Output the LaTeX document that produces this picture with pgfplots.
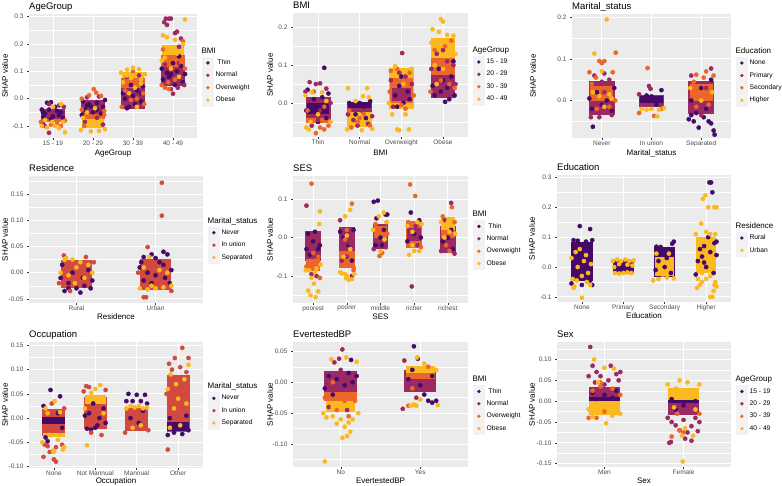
\documentclass[border=0pt]{standalone}
\usepackage{pgfplots}
\pgfplotsset{compat=1.18}
\usepackage{fontspec}
\setmainfont{Liberation Sans}
\definecolor{ggbg}{HTML}{EBEBEB}
\definecolor{ggkey}{HTML}{F2F2F2}
\definecolor{cA}{HTML}{450A69}
\definecolor{cB}{HTML}{9B2964}
\definecolor{cC}{HTML}{EB6628}
\definecolor{cD}{HTML}{FBB91F}
\definecolor{cR}{HTML}{D24A3F}
\newcommand{\rect}[5]{\addplot[draw=none,fill=#1,forget plot] coordinates {(#2,#3) (#4,#3) (#4,#5) (#2,#5)};}
\newcommand{\ltitle}[1]{\addlegendimage{empty legend}\addlegendentry{\hspace*{-14pt}\fontsize{8}{9}\selectfont\rule[-3pt]{0pt}{8pt}#1}}
\pgfplotsset{
 pt/.style={only marks, mark=*, mark size=2.1pt, color=#1, forget plot},
 lg/.style={only marks, mark=*, color=#1, legend image code/.code={\fill[ggkey] (0pt,-6pt) rectangle (11pt,6pt); \draw[mark size=1.5pt] plot coordinates {(5.5pt,0pt)};}},
 gg/.style={scale only axis, anchor=south west,
  axis background/.style={fill=ggbg}, axis line style={draw=none},
  grid=both, major grid style={white, line width=0.9pt}, minor grid style={white, line width=0.45pt},
  tick pos=left, tick align=outside, major tick length=2pt, minor tick length=0pt,
  tick style={draw=black!80, line width=0.45pt},
  ticklabel style={font=\fontsize{6.5}{7}\selectfont, text=black!70},
  xticklabel style={inner sep=1pt},
  label style={font=\fontsize{8}{9}\selectfont},
  every axis title/.style={at={(axis description cs:0,1)}, anchor=base west, yshift=4pt, inner sep=0pt, font=\fontsize{9.5}{11}\selectfont},
  ylabel={SHAP value},
  legend style={at={(1,0.5)}, anchor=west, xshift=5pt, draw=none, fill=none, font=\fontsize{6.7}{7.5}\selectfont, row sep=0pt, inner sep=0pt},
  legend cell align=left},
}
\begin{document}
\begin{tikzpicture}
% ---------------- Panel 1: AgeGroup
\begin{axis}[gg, at={(29pt,348pt)}, width=168pt, height=124pt,
 xmin=0.4, xmax=4.6, ymin=-0.144, ymax=0.31,
 xtick={1,2,3,4}, xticklabels={15 - 19,20 - 29,30 - 39,40 - 49},
 ytick={-0.1,0,0.1,0.2,0.3}, yticklabels={-0.1,0.0,0.1,0.2,0.3}, minor ytick={-0.05,0.05,0.15,0.25},
 title={AgeGroup}, xlabel={AgeGroup},
 ylabel style={at={(axis description cs:-0.143,0.5)}, anchor=center},
 xlabel style={at={(axis description cs:0.5,-0.127)}, anchor=center}]
\ltitle{BMI}
\addlegendimage{lg=cA}\addlegendentry{\ Thin}
\addlegendimage{lg=cB}\addlegendentry{Normal}
\addlegendimage{lg=cC}\addlegendentry{Overweight}
\addlegendimage{lg=cD}\addlegendentry{Obese}
\rect{cB}{0.7}{-0.086}{1.3}{-0.037}
\rect{cC}{0.7}{-0.086}{1.3}{-0.073}
\rect{cB}{1.7}{-0.056}{2.3}{-0.004}
\rect{cC}{1.7}{-0.076}{2.3}{-0.056}
\rect{cD}{1.72}{-0.106}{2.28}{-0.076}
\rect{cB}{2.7}{-0.038}{3.3}{0.04}
\rect{cC}{2.7}{0.04}{3.3}{0.075}
\rect{cD}{2.72}{0.075}{3.28}{0.098}
\rect{cB}{3.7}{0.047}{4.3}{0.115}
\rect{cC}{3.7}{0.115}{4.3}{0.16}
\rect{cD}{3.72}{0.16}{4.28}{0.198}
\addplot[pt=cA] coordinates {(0.85,-0.015)(0.95,-0.013)(0.72,-0.04)(1.1,-0.045)(0.8,-0.055)(1.2,-0.05)(1.0,-0.065)(0.9,-0.04)(1.25,-0.07)(0.76,-0.068)(1.05,-0.03)(0.75,-0.05)(1.15,-0.06)(0.95,-0.075)
 (1.75,-0.01)(1.9,-0.02)(2.1,-0.015)(2.25,-0.03)(1.8,-0.04)(2.0,-0.05)(2.2,-0.055)(1.95,-0.03)(2.3,-0.005)(1.72,-0.06)(2.1,-0.04)(1.85,-0.025)
 (2.8,0.0)(3.0,0.01)(3.2,-0.01)(2.9,-0.03)(3.1,0.03)(2.75,0.02)(3.25,0.045)(3.05,-0.02)(2.95,0.05)(3.2,0.02)(2.85,-0.035)
 (3.75,0.07)(3.9,0.08)(4.1,0.1)(4.25,0.06)(4.0,0.13)(3.85,0.095)(4.15,0.155)(4.3,0.09)(3.72,0.11)(4.05,0.05)(3.95,0.09)(4.2,0.12)};
\addplot[pt=cB] coordinates {(0.9,-0.02)(1.15,-0.025)(0.8,-0.1)(0.9,-0.125)(0.75,-0.09)(1.27,-0.03)
 (1.85,0.005)(2.15,0.008)(1.8,-0.085)(2.1,-0.07)(2.25,-0.095)
 (2.85,0.08)(3.15,0.085)
 (3.82,0.293)(3.9,0.293)(3.95,0.293)(3.78,0.28)(3.85,0.27)(4.05,0.24)(4.1,0.245)(4.2,0.22)(3.95,0.035)(4.12,0.04)(4.0,0.018)(4.28,0.05)(4.15,0.19)(3.8,0.125)(4.15,0.13)};
\addplot[pt=cC] coordinates {(0.95,-0.095)(1.1,-0.09)(0.7,-0.085)(1.2,-0.1)(1.3,-0.08)
 (2.02,0.035)(2.08,0.022)(1.9,0.012)(2.2,0.01)(1.72,0.0)(1.95,-0.065)(2.28,-0.06)(1.78,-0.1)(1.72,-0.04)(2.28,-0.045)
 (2.8,0.03)(3.1,0.0)(3.25,0.02)(2.72,-0.03)(3.0,0.1)(2.95,-0.005)(3.28,-0.02)
 (3.8,0.04)(3.9,0.035)(4.2,0.135)(3.75,0.18)(4.25,0.21)(3.88,0.06)(4.3,0.11)(4.05,0.07)(3.72,0.05)};
\addplot[pt=cD] coordinates {(1.0,-0.03)(1.2,-0.02)(1.05,-0.1)(0.85,-0.105)(1.15,-0.108)(1.3,-0.123)(0.72,-0.1)(0.98,-0.085)(0.8,-0.078)(1.25,-0.085)
 (1.85,-0.05)(2.05,-0.035)(1.7,-0.115)(1.95,-0.12)(2.15,-0.118)(2.3,-0.112)(2.05,-0.1)(1.9,-0.092)(1.75,-0.07)(2.2,-0.08)(2.0,-0.085)
 (3.0,0.113)(3.15,0.108)(2.85,0.106)(2.9,0.02)(3.2,0.055)(2.75,0.06)(3.3,0.09)(3.05,0.04)(2.7,0.095)(3.1,-0.03)(2.85,0.085)(3.2,0.07)(2.95,0.075)
 (4.3,0.29)(3.75,0.232)(3.85,0.225)(4.05,0.215)(4.25,0.2)(3.95,0.11)(4.15,0.08)(3.72,0.14)(4.0,0.175)(3.9,0.18)(4.1,0.165)(3.8,0.15)};
\end{axis}
% ---------------- Panel 2: BMI
\begin{axis}[gg, at={(293pt,349pt)}, width=175pt, height=124pt,
 xmin=0.4, xmax=4.6, ymin=-0.09, ymax=0.238,
 xtick={1,2,3,4}, xticklabels={Thin,Normal,Overweight,Obese},
 ytick={0,0.1,0.2}, yticklabels={0.0,0.1,0.2}, minor ytick={-0.05,0.05,0.15},
 title={BMI}, xlabel={BMI},
 ylabel style={at={(axis description cs:-0.131,0.5)}, anchor=center},
 xlabel style={at={(axis description cs:0.5,-0.13)}, anchor=center}]
\ltitle{AgeGroup}
\addlegendimage{lg=cA}\addlegendentry{15 - 19}
\addlegendimage{lg=cB}\addlegendentry{20 - 29}
\addlegendimage{lg=cC}\addlegendentry{30 - 39}
\addlegendimage{lg=cD}\addlegendentry{40 - 49}
\rect{cB}{0.7}{-0.053}{1.3}{0.016}
\rect{cA}{0.74}{-0.03}{1.26}{0.0}
\rect{cC}{0.72}{-0.053}{1.28}{-0.04}
\rect{cD}{1.7}{-0.064}{2.3}{0.002}
\rect{cB}{1.7}{-0.025}{2.3}{0.0}
\rect{cA}{1.72}{-0.012}{2.28}{0.002}
\rect{cD}{2.7}{-0.016}{3.3}{0.093}
\rect{cC}{2.72}{0.0}{3.28}{0.065}
\rect{cB}{2.77}{0.005}{3.23}{0.04}
\rect{cB}{3.7}{0.012}{4.3}{0.075}
\rect{cC}{3.7}{0.075}{4.3}{0.12}
\rect{cD}{3.72}{0.12}{4.28}{0.173}
\addplot[pt=cA] coordinates {(1.15,0.093)(0.9,0.01)(1.1,0.015)(1.25,0.025)(0.8,-0.005)(1.2,-0.04)(0.75,0.035)(1.0,-0.05)(0.72,-0.02)
 (1.8,-0.005)(2.0,0.0)(2.25,0.005)(1.9,-0.03)(2.15,-0.04)(2.1,-0.01)(1.75,0.0)
 (2.85,0.02)(3.05,0.0)(3.15,0.03)(2.95,0.045)(3.2,0.01)(2.9,-0.01)(3.0,0.07)
 (3.8,0.02)(3.95,0.03)(4.15,0.01)(4.28,0.02)(4.0,0.06)(3.75,0.045)(4.1,0.04)(3.9,0.09)(4.2,0.07)(4.05,0.003)(4.25,0.11)};
\addplot[pt=cB] coordinates {(0.8,0.055)(0.95,0.05)(1.05,0.052)(1.2,0.038)(0.7,0.03)(1.3,0.0)(0.85,-0.06)(1.0,-0.045)(1.05,-0.02)
 (1.85,-0.045)(2.05,-0.02)(2.2,-0.055)(1.72,-0.03)(1.95,-0.06)(2.3,-0.035)
 (3.02,0.132)(2.75,0.06)(3.25,0.05)(2.8,-0.01)(3.1,0.07)(2.95,0.08)
 (4.25,0.1)(3.72,0.09)(3.85,0.13)(4.1,0.11)(4.3,0.05)(4.0,0.14)};
\addplot[pt=cC] coordinates {(0.9,0.03)(1.05,-0.065)(0.95,-0.08)(1.25,-0.06)(0.75,-0.02)(1.15,-0.07)(1.15,-0.01)
 (1.75,-0.02)(2.1,-0.03)(1.95,-0.05)(2.25,-0.06)(1.8,-0.065)(2.0,-0.04)
 (2.75,0.085)(3.2,0.08)(2.9,0.09)(3.3,0.02)(2.72,0.03)(3.1,-0.015)(3.0,-0.005)
 (3.8,0.14)(4.05,0.15)(4.2,0.165)(3.95,0.06)(3.7,0.03)(4.28,0.04)(4.15,0.05)};
\addplot[pt=cD] coordinates {(0.7,0.02)(0.85,0.028)(1.1,0.028)(0.72,-0.065)(0.82,-0.05)(1.3,-0.05)(1.0,-0.03)(1.2,0.005)(0.78,-0.07)
 (1.72,0.039)(2.18,0.039)(2.08,0.018)(2.22,0.015)(1.9,0.005)(1.7,-0.07)(2.3,-0.068)(2.05,-0.072)
 (2.78,-0.03)(2.9,-0.07)(2.95,-0.072)(3.18,-0.07)(3.1,-0.03)(2.85,0.097)(3.25,0.09)(2.7,0.0)(3.05,0.05)
 (3.95,0.222)(4.0,0.215)(3.75,0.195)(3.9,0.188)(4.1,0.18)(4.25,0.178)(3.72,0.16)(4.3,0.13)(4.0,0.09)(3.85,0.05)(3.8,0.1)};
\end{axis}
% ---------------- Panel 3: Marital_status
\begin{axis}[gg, at={(572pt,348pt)}, width=159pt, height=124pt,
 xmin=0.4, xmax=3.6, ymin=-0.09, ymax=0.208,
 xtick={1,2,3}, xticklabels={Never,In union,Separated},
 ytick={0,0.1,0.2}, yticklabels={0.0,0.1,0.2}, minor ytick={-0.05,0.05,0.15},
 title={Marital\_status}, xlabel={Marital\_status},
 ylabel style={at={(axis description cs:-0.245,0.5)}, anchor=center},
 xlabel style={at={(axis description cs:0.5,-0.125)}, anchor=center}]
\ltitle{Education}
\addlegendimage{lg=cA}\addlegendentry{None}
\addlegendimage{lg=cB}\addlegendentry{Primary}
\addlegendimage{lg=cC}\addlegendentry{Secondary}
\addlegendimage{lg=cD}\addlegendentry{Higher}
\rect{cB}{0.74}{-0.034}{1.26}{0.048}
\rect{cC}{0.77}{0.0}{1.23}{0.035}
\rect{cB}{1.74}{-0.015}{2.26}{0.014}
\rect{cA}{1.77}{-0.005}{2.23}{0.011}
\rect{cB}{2.74}{-0.033}{3.26}{0.048}
\rect{cC}{2.77}{0.0}{3.23}{0.04}
\addplot[pt=cA] coordinates {(0.8,-0.02)(1.0,-0.01)(1.2,-0.025)(0.9,0.02)(1.1,0.0)(0.75,0.005)(1.25,0.03)(0.82,-0.063)
 (2.2,0.025)(1.8,0.0)(2.0,0.01)(2.1,-0.01)(1.9,0.012)
 (2.75,-0.045)(2.85,-0.05)(2.95,-0.065)(3.05,-0.04)(3.15,-0.05)(3.2,-0.055)(3.25,-0.072)(3.27,-0.082)(2.9,-0.03)(3.1,-0.02)(2.8,0.0)(3.0,0.03)(3.2,0.05)(2.8,-0.035)};
\addplot[pt=cB] coordinates {(0.85,0.06)(1.05,0.065)(1.15,0.05)(0.78,-0.04)(0.95,-0.04)(1.2,-0.035)(1.0,0.045)(1.05,0.02)
 (1.95,0.035)(1.98,0.028)(1.75,0.015)
 (3.2,0.077)(2.8,0.06)(3.0,-0.035)(3.1,0.03)};
\addplot[pt=cC] coordinates {(1.28,0.115)(0.95,0.095)(1.05,0.095)(1.0,0.09)(0.75,0.068)(1.22,0.068)(0.88,0.055)(1.1,0.03)(0.9,-0.02)(1.27,0.0)(0.8,0.04)(1.15,-0.015)
 (1.92,0.078)(2.05,-0.037)(1.75,-0.03)(2.2,-0.02)
 (3.1,0.07)(2.9,0.062)(3.25,0.06)(3.05,0.055)(2.85,0.045)(3.15,-0.01)(2.9,-0.015)};
\addplot[pt=cD] coordinates {(1.1,0.195)(0.85,0.113)(1.0,0.07)(0.95,0.01)(1.15,0.015)(0.82,0.02)(1.2,0.005)(1.05,-0.015)
 (2.12,-0.038)(1.8,-0.02)(1.9,-0.022)(2.0,-0.02)(2.15,-0.022)(2.25,-0.018)
 (2.78,0.03)(3.22,0.02)(3.0,0.0)};
\end{axis}
% ---------------- Panel 4: Residence
\begin{axis}[gg, at={(29pt,183pt)}, width=174pt, height=127pt,
 xmin=0.4, xmax=2.6, ymin=-0.058, ymax=0.185,
 xtick={1,2}, xticklabels={Rural,Urban},
 ytick={-0.05,0,0.05,0.1,0.15}, yticklabels={-0.05,0.00,0.05,0.10,0.15}, minor ytick={-0.025,0.025,0.075,0.125,0.175},
 title={Residence}, xlabel={Residence},
 ylabel style={at={(axis description cs:-0.138,0.5)}, anchor=center},
 xlabel style={at={(axis description cs:0.5,-0.108)}, anchor=center}]
\ltitle{Marital\_status}
\addlegendimage{lg=cA}\addlegendentry{Never}
\addlegendimage{lg=cR}\addlegendentry{In union}
\addlegendimage{lg=cD}\addlegendentry{Separated}
\rect{cR}{0.8}{-0.03}{1.2}{0.025}
\rect{cR}{1.8}{-0.034}{2.2}{0.026}
\addplot[pt=cA] coordinates {(0.8,-0.01)(0.9,-0.02)(1.0,-0.03)(1.1,-0.025)(1.2,-0.015)(0.85,-0.035)(0.95,0.0)(1.15,0.005)(1.05,-0.038)(0.82,0.015)(1.18,-0.03)(0.9,-0.03)(1.08,-0.01)
 (1.85,0.03)(1.95,0.035)(2.1,0.04)(2.15,0.035)(1.8,0.01)(1.9,0.0)(2.0,-0.005)(2.1,0.015)(2.2,0.005)(1.85,-0.015)(1.95,-0.02)(2.05,0.02)(2.18,-0.02)(1.82,0.02)(2.0,0.028)(2.12,-0.01)};
\addplot[pt=cR] coordinates {(0.84,0.033)(1.12,0.03)(0.92,-0.035)(1.22,0.02)(0.78,-0.02)
 (2.08,0.172)(2.08,0.109)(1.9,0.049)(1.85,-0.047)(1.88,-0.047)(2.2,-0.035)(1.78,0.0)};
\addplot[pt=cD] coordinates {(0.85,0.025)(0.95,0.025)(1.05,0.02)(1.15,0.015)(0.8,0.0)(1.0,0.01)(0.9,-0.005)(1.1,-0.01)(1.2,0.0)(0.87,0.028)(0.98,-0.02)
 (1.8,-0.03)(1.9,-0.032)(2.0,-0.03)(2.1,-0.028)(2.2,-0.025)(1.95,-0.025)(2.05,0.005)(1.85,0.01)(2.15,0.0)(1.92,0.03)};
\end{axis}
% ---------------- Panel 5: SES
\begin{axis}[gg, at={(293pt,183pt)}, width=175pt, height=127pt,
 xmin=0.4, xmax=5.6, ymin=-0.17, ymax=0.16,
 xtick={1,2,3,4,5}, xticklabels={poorest,poorer,middle,richer,richest},
 ytick={-0.1,0,0.1}, yticklabels={-0.1,0.0,0.1}, minor ytick={-0.15,-0.05,0.05,0.15},
 title={SES}, xlabel={SES},
 ylabel style={at={(axis description cs:-0.131,0.5)}, anchor=center},
 xlabel style={at={(axis description cs:0.5,-0.108)}, anchor=center}]
\ltitle{BMI}
\addlegendimage{lg=cA}\addlegendentry{\ Thin}
\addlegendimage{lg=cB}\addlegendentry{Normal}
\addlegendimage{lg=cC}\addlegendentry{Overweight}
\addlegendimage{lg=cD}\addlegendentry{Obese}
\rect{cB}{0.77}{-0.061}{1.23}{0.017}
\rect{cC}{0.79}{-0.088}{1.21}{-0.055}
\rect{cB}{1.77}{-0.035}{2.23}{0.028}
\rect{cC}{1.77}{-0.078}{2.23}{-0.035}
\rect{cB}{2.77}{-0.031}{3.23}{0.036}
\rect{cC}{2.8}{0.0}{3.2}{0.03}
\rect{cC}{3.77}{-0.028}{4.23}{0.043}
\rect{cB}{3.8}{-0.01}{4.2}{0.025}
\rect{cB}{4.77}{-0.04}{5.23}{0.03}
\rect{cD}{4.79}{0.02}{5.21}{0.053}
\rect{cC}{4.79}{0.0}{5.21}{0.02}
\addplot[pt=cA] coordinates {(0.85,0.01)(1.0,-0.01)(1.15,-0.03)(0.9,-0.045)(1.2,-0.02)(1.05,0.015)(0.8,-0.03)
 (2.2,0.02)(2.15,-0.06)(1.9,0.0)(2.05,-0.02)(1.8,0.015)
 (2.8,0.093)(2.92,0.096)(2.88,0.05)(3.15,0.06)(3.2,0.06)(3.0,0.0)(2.85,-0.02)(3.1,0.02)(3.05,-0.02)
 (3.9,0.065)(4.15,0.045)(4.0,0.01)(3.8,-0.01)(4.2,0.0)
 (5.15,-0.03)(5.0,0.0)(4.85,-0.01)(5.1,0.02)};
\addplot[pt=cB] coordinates {(0.8,0.083)(1.1,-0.1)(0.95,-0.095)
 (1.8,0.045)(2.0,-0.05)(1.85,-0.06)(2.1,-0.015)(2.15,-0.1)
 (2.8,-0.03)(3.15,-0.025)
 (3.93,-0.127)(4.05,0.03)(3.85,0.02)(4.1,-0.02)
 (5.1,0.09)(4.9,0.045)(5.2,-0.042)(4.8,-0.035)};
\addplot[pt=cC] coordinates {(0.95,0.14)(1.2,-0.105)(0.8,-0.075)(1.05,-0.06)(1.15,-0.05)(1.0,-0.04)
 (2.15,0.088)(2.2,-0.085)(2.2,-0.078)(2.0,0.02)(1.95,-0.005)
 (2.97,-0.048)(3.05,-0.04)(2.85,0.035)(3.2,0.01)
 (3.88,0.138)(4.03,0.108)(3.82,0.04)(4.2,-0.025)
 (5.12,0.079)(4.85,0.055)(5.2,0.04)(4.95,-0.02)(5.05,-0.035)};
\addplot[pt=cD] coordinates {(1.2,0.068)(1.18,0.035)(0.88,-0.085)(1.1,-0.08)(1.22,-0.07)(0.78,-0.085)(1.05,-0.09)(0.95,-0.105)(0.85,-0.138)(0.92,-0.15)(1.07,-0.155)(1.15,-0.14)(1.02,-0.12)
 (2.1,0.072)(1.95,0.055)(1.8,-0.09)(1.85,-0.093)(1.95,-0.095)(1.98,-0.105)(2.0,-0.1)(2.05,-0.11)(2.15,-0.108)(2.22,-0.095)(1.9,-0.05)(2.1,-0.03)(2.0,0.005)
 (3.1,0.065)(2.95,0.055)(3.18,0.04)(2.78,0.02)(3.0,-0.035)(3.12,-0.005)
 (3.85,-0.045)(4.0,-0.035)(4.15,-0.035)(3.95,-0.02)(4.22,0.035)(3.8,0.03)(4.1,0.04)(3.95,0.015)
 (4.8,0.04)(5.0,0.04)(5.22,0.01)(4.9,0.0)(5.05,0.015)};
\end{axis}
% ---------------- Panel 6: Education
\begin{axis}[gg, at={(557pt,184pt)}, width=174pt, height=127pt,
 xmin=0.4, xmax=4.6, ymin=-0.117, ymax=0.308,
 xtick={1,2,3,4}, xticklabels={None,Primary,Secondary,Higher},
 ytick={-0.1,0,0.1,0.2,0.3}, yticklabels={-0.1,0.0,0.1,0.2,0.3}, minor ytick={-0.05,0.05,0.15,0.25},
 title={Education}, xlabel={Education},
 ylabel style={at={(axis description cs:-0.144,0.5)}, anchor=center},
 xlabel style={at={(axis description cs:0.5,-0.108)}, anchor=center}]
\ltitle{Residence}
\addlegendimage{lg=cA}\addlegendentry{Rural}
\addlegendimage{lg=cD}\addlegendentry{Urban}
\rect{cA}{0.74}{-0.048}{1.26}{0.083}
\rect{cA}{1.74}{-0.023}{2.26}{0.023}
\rect{cA}{2.74}{-0.033}{3.26}{0.068}
\rect{cD}{2.77}{-0.03}{3.23}{0.033}
\rect{cD}{3.76}{-0.02}{4.24}{0.1}
\addplot[pt=cA] coordinates {(0.95,0.137)(1.2,0.127)(0.8,0.09)(0.9,0.088)(1.1,0.085)(1.25,0.09)(0.75,-0.055)(1.25,-0.06)(1.0,-0.06)(1.2,-0.045)
 (3.22,0.085)(3.18,0.078)(2.8,0.068)(2.9,0.067)(3.1,0.06)(2.85,0.02)(3.0,0.0)(3.15,-0.02)(2.78,-0.01)(3.05,0.03)
 (4.08,0.283)(4.12,0.283)(4.15,0.25)(3.8,0.02)(3.9,0.035)(4.0,0.0)(4.1,0.05)(4.2,0.08)(4.25,0.085)(3.85,0.06)(4.05,0.1)(3.95,0.015)(4.18,-0.02)(3.75,-0.025)(4.25,0.04)(3.95,0.07)};
\addplot[pt=cD] coordinates {(0.82,-0.065)(0.8,-0.07)(1.2,-0.06)(1.0,-0.103)(0.9,0.0)(1.05,0.02)(1.15,-0.02)(0.85,0.05)(1.1,0.04)(0.78,-0.04)(1.0,-0.03)(0.95,0.06)(1.22,0.01)(0.88,-0.045)(1.12,-0.05)(0.75,0.03)
 (1.75,0.02)(1.85,0.025)(1.95,0.02)(2.05,0.025)(2.15,0.02)(2.25,0.022)(1.8,-0.02)(1.9,-0.022)(2.0,-0.02)(2.1,-0.018)(2.2,-0.02)(1.78,0.0)(2.22,0.005)(1.9,0.01)(2.1,0.008)
 (2.72,-0.045)(2.85,-0.04)(3.05,-0.035)(3.22,-0.038)(2.95,-0.025)(3.1,0.045)(2.8,0.045)
 (3.98,0.24)(3.92,0.228)(4.05,0.2)(4.2,0.2)(4.25,0.2)(3.88,0.145)(4.0,0.118)(4.1,0.11)(4.22,0.11)(3.75,0.11)(3.8,-0.04)(3.85,-0.06)(3.78,-0.07)(3.9,-0.05)(4.0,-0.04)(4.1,-0.03)(4.2,-0.06)(4.25,-0.065)(4.15,-0.1)(4.1,-0.1)(4.18,-0.08)(4.22,-0.05)(3.9,-0.02)};
\end{axis}
% ---------------- Panel 7: Occupation
\begin{axis}[gg, at={(29pt,18pt)}, width=174pt, height=126pt,
 xmin=0.4, xmax=4.6, ymin=-0.103, ymax=0.157,
 xtick={1,2,3,4}, xticklabels={None,Not Mannual,Mannual,Other},
 ytick={-0.1,-0.05,0,0.05,0.1,0.15}, yticklabels={-0.10,-0.05,0.00,0.05,0.10,0.15}, minor ytick={-0.075,-0.025,0.025,0.075,0.125},
 title={Occupation}, xlabel={Occupation},
 ylabel style={at={(axis description cs:-0.138,0.5)}, anchor=center},
 xlabel style={at={(axis description cs:0.5,-0.108)}, anchor=center}]
\ltitle{Marital\_status}
\addlegendimage{lg=cA}\addlegendentry{Never}
\addlegendimage{lg=cR}\addlegendentry{In union}
\addlegendimage{lg=cD}\addlegendentry{Separated}
\rect{cR}{0.72}{-0.038}{1.28}{0.018}
\rect{cA}{0.72}{-0.012}{1.28}{0.003}
\rect{cD}{0.74}{-0.04}{1.26}{-0.03}
\rect{cR}{1.72}{-0.022}{2.28}{0.043}
\rect{cD}{1.74}{0.03}{2.26}{0.048}
\rect{cR}{2.72}{-0.026}{3.28}{0.02}
\rect{cR}{3.72}{-0.028}{4.28}{0.088}
\rect{cA}{3.74}{-0.026}{4.26}{-0.008}
\addplot[pt=cA] coordinates {(0.92,0.058)(1.15,0.045)(0.75,0.025)(0.8,-0.04)(0.85,-0.048)(1.1,0.01)(1.2,-0.02)
 (1.8,-0.022)(1.9,-0.024)(2.0,-0.02)(2.1,0.0)(1.85,0.01)(2.2,0.02)(1.95,0.03)(2.25,-0.01)(1.75,0.005)(2.05,-0.015)
 (2.8,0.05)(3.0,0.048)(3.2,0.048)(2.75,0.035)(2.9,0.035)(3.1,0.035)(3.25,0.03)(2.85,0.0)(3.05,-0.01)(3.15,0.015)
 (3.75,-0.035)(3.9,-0.03)(4.1,-0.033)(4.25,-0.025)(3.8,0.0)(4.2,0.005)};
\addplot[pt=cR] coordinates {(0.78,-0.055)(0.85,-0.058)(1.05,-0.06)(1.2,-0.055)(0.75,-0.08)(1.0,-0.085)(1.05,-0.09)(0.9,-0.07)(0.95,0.03)(1.25,0.02)
 (1.78,0.066)(1.85,0.064)(2.15,-0.035)(1.72,0.055)(2.25,0.058)(1.9,-0.03)
 (2.72,-0.03)(3.28,-0.025)
 (4.1,0.145)(3.92,0.124)(4.25,0.124)(3.78,0.112)(4.05,0.105)(3.85,0.1)(4.2,0.095)(3.75,-0.065)(3.72,0.05)};
\addplot[pt=cD] coordinates {(1.02,0.035)(0.8,0.02)(0.85,0.01)(1.15,0.012)(1.25,-0.06)(1.22,-0.065)(0.98,-0.067)(1.0,-0.07)(0.72,-0.05)(1.1,-0.045)(0.9,-0.035)
 (2.12,0.068)(1.8,-0.056)(2.0,0.06)(1.75,0.02)(2.2,0.01)(1.9,0.052)
 (2.75,0.02)(2.85,0.025)(2.95,0.022)(3.05,0.025)(3.15,0.02)(3.25,0.022)(2.9,-0.02)(3.1,-0.015)
 (4.25,0.11)(3.82,0.09)(4.15,0.08)(3.75,0.06)(4.0,0.04)(3.9,0.02)(4.2,0.03)(3.95,0.07)(4.05,-0.015)(3.8,-0.02)};
\end{axis}
% ---------------- Panel 8: EvertestedBP
\begin{axis}[gg, at={(293pt,19pt)}, width=175pt, height=125pt,
 xmin=0.4, xmax=2.6, ymin=-0.137, ymax=0.065,
 xtick={1,2}, xticklabels={No,Yes},
 ytick={-0.1,-0.05,0,0.05}, yticklabels={-0.10,-0.05,0.00,0.05}, minor ytick={-0.125,-0.075,-0.025,0.025},
 title={EvertestedBP}, xlabel={EvertestedBP},
 ylabel style={at={(axis description cs:-0.131,0.5)}, anchor=center},
 xlabel style={at={(axis description cs:0.5,-0.108)}, anchor=center}]
\ltitle{BMI}
\addlegendimage{lg=cA}\addlegendentry{\ Thin}
\addlegendimage{lg=cB}\addlegendentry{Normal}
\addlegendimage{lg=cC}\addlegendentry{Overweight}
\addlegendimage{lg=cD}\addlegendentry{Obese}
\rect{cB}{0.79}{-0.02}{1.21}{0.018}
\rect{cC}{0.79}{-0.031}{1.21}{-0.015}
\rect{cD}{0.82}{-0.048}{1.18}{-0.03}
\rect{cB}{1.8}{-0.015}{2.2}{0.02}
\rect{cD}{1.82}{0.015}{2.18}{0.026}
\rect{cC}{1.82}{0.005}{2.18}{0.015}
\addplot[pt=cA] coordinates {(1.13,0.036)(0.85,0.01)(0.95,0.005)(1.05,-0.005)(1.15,0.0)(0.8,-0.01)(1.2,0.01)(0.9,-0.02)(1.1,0.015)
 (1.92,0.058)(1.97,0.038)(1.85,0.005)(2.0,-0.005)(2.15,0.01)(2.1,-0.03)(2.2,-0.03)(2.15,-0.033)(2.05,-0.02)(1.9,0.02)};
\addplot[pt=cB] coordinates {(1.02,0.053)(0.98,0.038)(0.92,0.032)(1.08,-0.045)(0.85,-0.04)(1.0,0.02)
 (1.78,-0.043)(1.8,0.035)(1.95,-0.025)};
\addplot[pt=cC] coordinates {(0.8,-0.025)(1.18,-0.03)(0.95,-0.045)(1.1,-0.055)(1.05,-0.03)(0.9,0.0)
 (1.85,-0.038)(2.1,0.025)(1.9,-0.01)};
\addplot[pt=cD] coordinates {(0.88,0.037)(1.07,0.04)(1.2,0.033)(0.78,-0.05)(0.82,-0.057)(0.9,-0.055)(1.0,-0.06)(1.1,-0.065)(1.15,-0.06)(1.22,-0.05)(0.95,-0.067)(1.05,-0.072)(1.12,-0.08)(1.08,-0.087)(1.02,-0.09)(0.8,-0.128)(0.9,-0.04)(1.15,-0.04)
 (1.96,0.04)(1.88,-0.038)(1.92,-0.036)(1.95,-0.038)(2.0,-0.028)(2.22,-0.037)(2.05,0.03)(2.2,0.02)};
\end{axis}
% ---------------- Panel 9: Sex
\begin{axis}[gg, at={(557pt,19pt)}, width=174pt, height=125pt,
 xmin=0.4, xmax=2.6, ymin=-0.158, ymax=0.142,
 xtick={1,2}, xticklabels={Men,Female},
 ytick={-0.15,-0.1,-0.05,0,0.05,0.1}, yticklabels={-0.15,-0.10,-0.05,0.00,0.05,0.10}, minor ytick={-0.125,-0.075,-0.025,0.025,0.075,0.125},
 title={Sex}, xlabel={Sex},
 ylabel style={at={(axis description cs:-0.144,0.5)}, anchor=center},
 xlabel style={at={(axis description cs:0.5,-0.108)}, anchor=center}]
\ltitle{AgeGroup}
\addlegendimage{lg=cA}\addlegendentry{15 - 19}
\addlegendimage{lg=cB}\addlegendentry{20 - 29}
\addlegendimage{lg=cC}\addlegendentry{30 - 39}
\addlegendimage{lg=cD}\addlegendentry{40 - 49}
\rect{cD}{0.8}{-0.034}{1.2}{0.0}
\rect{cB}{0.8}{0.005}{1.2}{0.034}
\rect{cA}{0.8}{0.0}{1.2}{0.01}
\rect{cB}{1.8}{-0.034}{2.2}{0.0}
\rect{cD}{1.8}{0.0}{2.2}{0.031}
\rect{cA}{1.8}{-0.004}{2.2}{0.002}
\addplot[pt=cA] coordinates {(0.85,0.02)(1.0,0.015)(1.15,0.025)(0.9,0.005)(1.1,0.008)
 (1.85,0.005)(2.0,-0.01)(2.15,0.0)(1.9,-0.02)};
\addplot[pt=cB] coordinates {(0.82,0.13)(0.85,0.085)(1.08,0.085)(0.9,0.07)(1.15,0.065)(1.2,0.07)(0.8,0.06)(0.95,0.06)(1.05,0.05)(1.18,0.05)(0.88,0.045)(1.0,0.04)
 (1.85,-0.05)(1.9,-0.058)(2.0,-0.045)(2.1,-0.06)(2.2,-0.05)(1.95,-0.07)(2.05,-0.075)(1.82,-0.1)(1.84,-0.098)(2.02,-0.09)(2.1,-0.095)(2.18,-0.072)(1.8,-0.04)(2.15,-0.04)};
\addplot[pt=cC] coordinates {(0.85,0.025)(1.1,0.03)(0.95,0.035)(1.2,0.015)(0.8,-0.04)(0.9,-0.04)(1.0,-0.025)(0.95,0.045)
 (1.85,-0.085)(1.95,-0.07)(2.2,-0.03)(1.92,-0.03)(2.0,-0.075)};
\addplot[pt=cD] coordinates {(0.87,0.1)(1.0,0.08)(1.12,0.078)(0.92,0.045)(1.02,-0.053)(0.85,-0.038)(1.1,-0.035)(0.8,-0.02)(1.2,-0.03)
 (2.02,-0.065)(1.98,-0.083)(2.12,-0.083)(1.99,-0.145)(1.95,0.05)(2.05,0.045)(2.2,0.04)(1.8,0.04)(1.9,0.03)(2.1,0.01)(1.88,-0.015)(2.15,-0.02)};
\end{axis}
\pgfresetboundingbox
\path[use as bounding box] (0pt,0pt) rectangle (782pt,486pt);
\end{tikzpicture}
\end{document}
